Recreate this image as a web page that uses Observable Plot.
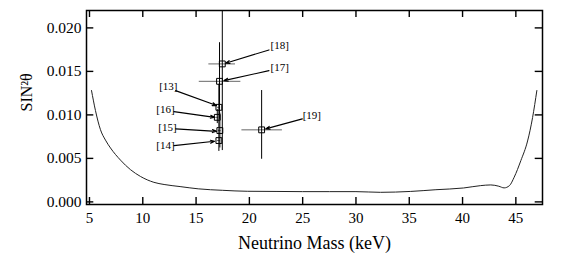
<!DOCTYPE html>
<html>
<head>
<meta charset="utf-8">
<script src="https://cdn.jsdelivr.net/npm/d3@7"></script>
<script src="https://cdn.jsdelivr.net/npm/@observablehq/plot@0.6"></script>
<style>
  html, body { margin: 0; padding: 0; background: white; }
</style>
</head>
<body>
<div id="chart"></div>
<script>
// Tick values
const xTicks = [5, 10, 15, 20, 25, 30, 35, 40, 45];
const yTicks = [0, 0.005, 0.010, 0.015, 0.020];

// Limit curve
const curveMass = [5.19, 5.56, 6.03, 6.5, 6.97, 7.91, 8.85, 9.79, 11.04, 12.0, 13.5, 15.2, 17.5, 19.8, 22.5, 25, 27.5, 30, 32.3, 35.1, 37.5, 40.1, 41.7, 42.65, 43.4, 43.9, 44.4, 44.84, 45.47, 46.1, 46.57, 46.97];
const curveSin2 = [0.0128, 0.0105, 0.0083, 0.0071, 0.0062, 0.0048, 0.0037, 0.00292, 0.00225, 0.0020, 0.00176, 0.0015, 0.00133, 0.00122, 0.0012, 0.00118, 0.00118, 0.00118, 0.0011, 0.0012, 0.0014, 0.0016, 0.00187, 0.00195, 0.0018, 0.00161, 0.00187, 0.00283, 0.00475, 0.0070, 0.0097, 0.0128];

// Experimental claims
const refs    = ["[13]", "[14]", "[15]", "[16]", "[17]", "[18]", "[19]"];
const mass    = [17.14, 17.14, 17.23, 16.99, 17.2, 17.46, 21.15];
const massLo  = [17.0, 17.0, 17.1, 16.85, 15.3, 16.2, 19.3];
const massHi  = [17.3, 17.3, 17.35, 17.1, 19.2, 18.7, 23.1];
const sin2    = [0.01087, 0.00705, 0.0082, 0.00972, 0.01386, 0.01586, 0.00828];
const sin2Lo  = [0.0085, 0.0058, 0.0062, 0.0090, 0.0095, 0.0059, 0.0049];
const sin2Hi  = [0.0135, 0.0084, 0.0102, 0.0106, 0.0183, 0.0226, 0.0128];

// Annotation labels and arrows
const side    = ["left", "left", "left", "left", "right", "right", "right"];
const labelX  = [13.26, 12.98, 13.17, 12.98, 21.99, 21.99, 25.0];
const labelY  = [0.01325, 0.00647, 0.00851, 0.01061, 0.01547, 0.01797, 0.00999];
const arrowX1 = [13.08, 12.92, 13.08, 12.92, 21.84, 21.84, 24.97];
const arrowY1 = [0.01279, 0.00647, 0.00839, 0.01038, 0.01509, 0.01747, 0.00954];
const arrowX2 = [16.92, 16.74, 16.92, 16.74, 17.61, 17.77, 21.53];
const arrowY2 = [0.01107, 0.00697, 0.00811, 0.00972, 0.01394, 0.01593, 0.00839];

const curve = curveMass.map((m, i) => ({m, s: curveSin2[i]}));
const pts = refs.map((r, i) => ({
  ref: r, x: mass[i], xlo: massLo[i], xhi: massHi[i],
  y: sin2[i], ylo: sin2Lo[i], yhi: sin2Hi[i],
  side: side[i], lx: labelX[i], ly: labelY[i],
  ax1: arrowX1[i], ay1: arrowY1[i], ax2: arrowX2[i], ay2: arrowY2[i]
}));

const font = "Liberation Serif";

const chart = Plot.plot({
  width: 565,
  height: 262,
  marginLeft: 86,
  marginRight: 23,
  marginTop: 10,
  marginBottom: 58,
  style: {fontFamily: font, background: "white", color: "black"},
  x: {domain: [4.72, 47.5]},
  y: {domain: [-0.0003, 0.022]},
  marks: [
    // inward ticks on all four sides
    Plot.tickX(xTicks, {x: d => d, insetTop: 187, stroke: "black", strokeWidth: 1.4}),
    Plot.tickX(xTicks, {x: d => d, insetBottom: 187, stroke: "black", strokeWidth: 1.4}),
    Plot.tickY(yTicks, {y: d => d, insetRight: 448.7, stroke: "black", strokeWidth: 1.4}),
    Plot.tickY(yTicks, {y: d => d, insetLeft: 448.7, stroke: "black", strokeWidth: 1.4}),
    Plot.axisX(xTicks, {tickSize: 0, tickPadding: 7.5, fontSize: 15, fontFamily: font, label: null}),
    Plot.axisY(yTicks, {tickSize: 0, tickPadding: 5, fontSize: 15.5, fontFamily: font, tickFormat: d3.format(".3f"), label: null}),
    Plot.text(["Neutrino Mass (keV)"], {frameAnchor: "bottom", dy: 44.3, lineAnchor: "bottom", fontSize: 18, fontFamily: font, fill: "black"}),
    Plot.text(["SIN²θ"], {frameAnchor: "left", dx: -60, dy: 4, rotate: -90, lineAnchor: "middle", fontSize: 16, fontFamily: font, fill: "black"}),
    // limit curve
    Plot.line(curve, {x: "m", y: "s", curve: "monotone-x", stroke: "#222", strokeWidth: 1}),
    // error bars
    Plot.ruleY(pts, {y: "y", x1: "xlo", x2: "xhi", stroke: "#555", strokeWidth: 0.9}),
    Plot.ruleX(pts, {x: "x", y1: "ylo", y2: "yhi", stroke: "black", strokeWidth: 1, clip: true}),
    Plot.dot(pts, {x: "x", y: "y", symbol: "square", r: 3.3, stroke: "black", fill: "none", strokeWidth: 1}),
    // annotations
    Plot.arrow(pts, {x1: "ax1", y1: "ay1", x2: "ax2", y2: "ay2", stroke: "black", strokeWidth: 1.1, headLength: 6, headAngle: 40}),
    Plot.text(pts.filter(d => d.side === "left"), {x: "lx", y: "ly", text: "ref", textAnchor: "end", fontSize: 11, fontFamily: font, fill: "black"}),
    Plot.text(pts.filter(d => d.side === "right"), {x: "lx", y: "ly", text: "ref", textAnchor: "start", fontSize: 11, fontFamily: font, fill: "black"}),
    Plot.frame({stroke: "black", strokeWidth: 1.5})
  ]
});

document.getElementById("chart").appendChild(chart);
</script>
</body>
</html>
